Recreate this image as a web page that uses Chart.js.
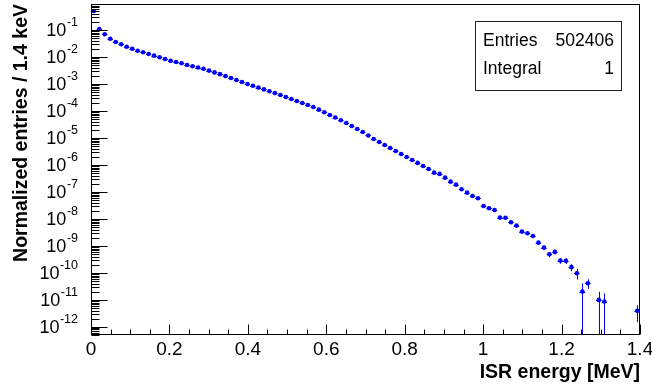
<!DOCTYPE html>
<html>
<head>
<meta charset="utf-8">
<script src="https://cdn.jsdelivr.net/npm/chart.js@4.4.1/dist/chart.umd.min.js"></script>
<style>
html, body { margin: 0; padding: 0; background: #fff; }
#wrap { width: 652px; height: 387px; }
</style>
</head>
<body>
<div id="wrap"><canvas id="chart-isr"></canvas></div>
<script>
var FONT = "'Liberation Sans', Arial, Helvetica, sans-serif";

// bin centres [MeV], 14 keV bins
var energy = [
	0.007, 0.021, 0.035, 0.049, 0.063, 0.077, 0.091, 0.105, 0.119, 0.133,
	0.147, 0.161, 0.175, 0.189, 0.203, 0.217, 0.231, 0.245, 0.259, 0.273,
	0.287, 0.301, 0.315, 0.329, 0.343, 0.357, 0.371, 0.385, 0.399, 0.413,
	0.427, 0.441, 0.455, 0.469, 0.483, 0.497, 0.511, 0.525, 0.539, 0.553,
	0.567, 0.581, 0.595, 0.609, 0.623, 0.637, 0.651, 0.665, 0.679, 0.693,
	0.707, 0.721, 0.735, 0.749, 0.763, 0.777, 0.791, 0.805, 0.819, 0.833,
	0.847, 0.861, 0.875, 0.889, 0.903, 0.917, 0.931, 0.945, 0.959, 0.973,
	0.987, 1.001, 1.015, 1.029, 1.043, 1.057, 1.071, 1.085, 1.099, 1.113,
	1.127, 1.141, 1.155, 1.169, 1.183, 1.197, 1.211, 1.225, 1.239, 1.253,
	1.267, 1.281, 1.295, 1.309, 1.323, 1.337, 1.351, 1.365, 1.379, 1.393
];

// normalized entries per bin (null = empty bin)
var entries = [
	0.506, 0.109, 0.0693, 0.0476, 0.0360, 0.0295, 0.0241, 0.0203, 0.0171, 0.0149,
	0.0129, 0.0112, 0.00975, 0.00843, 0.00730, 0.00653, 0.00585, 0.00506, 0.00453, 0.00408,
	0.00366, 0.00313, 0.00269, 0.00231, 0.00196, 0.00167, 0.00141, 0.00119, 0.00100, 0.000857,
	0.000736, 0.000631, 0.000541, 0.000460, 0.000392, 0.000330, 0.000278, 0.000234, 0.000198, 0.000167,
	0.000141, 0.000112, 8.95e-5, 7.11e-5, 5.70e-5, 4.53e-5, 3.60e-5, 2.78e-5, 2.15e-5, 1.67e-5,
	1.24e-5, 9.18e-6, 7.11e-6, 5.51e-6, 4.27e-6, 3.30e-6, 2.55e-6, 1.98e-6, 1.53e-6, 1.19e-6,
	9.18e-7, 7.11e-7, 5.19e-7, 4.65e-7, 3.39e-7, 2.41e-7, 1.86e-7, 1.26e-7, 9.42e-8, 7.11e-8,
	5.85e-8, 3.03e-8, 2.49e-8, 2.15e-8, 1.12e-8, 1.10e-8, 7.55e-9, 5.65e-9, 3.39e-9, 2.95e-9,
	2.34e-9, 1.32e-9, 8.65e-10, 4.93e-10, 6.00e-10, 2.86e-10, 2.80e-10, 1.63e-10, 9.75e-11, 2.03e-11,
	4.16e-11, null, 1.0e-11, 8.65e-12, null, null, null, null, null, 3.92e-12
];

// relative error per bin
var relErr = [
	0.01, 0.01, 0.01, 0.01, 0.01, 0.01, 0.01, 0.01, 0.01, 0.01,
	0.01, 0.01, 0.01, 0.01, 0.01, 0.01, 0.01, 0.01, 0.01, 0.01,
	0.01, 0.01, 0.01, 0.01, 0.01, 0.01, 0.01, 0.01, 0.01, 0.01,
	0.01, 0.01, 0.01, 0.01, 0.01, 0.01, 0.01, 0.01, 0.01, 0.01,
	0.01, 0.01, 0.01, 0.01, 0.01, 0.01, 0.01, 0.01, 0.01, 0.01,
	0.02, 0.02, 0.02, 0.02, 0.02, 0.02, 0.02, 0.02, 0.02, 0.02,
	0.03, 0.03, 0.03, 0.03, 0.03, 0.03, 0.03, 0.03, 0.03, 0.03,
	0.06, 0.06, 0.06, 0.06, 0.06, 0.06, 0.06, 0.06, 0.10, 0.10,
	0.10, 0.14, 0.16, 0.22, 0.20, 0.24, 0.24, 0.30, 0.42, 1.0,
	0.38, 0, 1.0, 1.0, 0, 0, 0, 0, 0, 0.62
];

var binWidth = 0.014;

var xTickValues = [0, 0.2, 0.4, 0.6, 0.8, 1, 1.2, 1.4];
var xTickLabels = ['0', '0.2', '0.4', '0.6', '0.8', '1', '1.2', '1.4'];
var yTickPowers = [-1, -2, -3, -4, -5, -6, -7, -8, -9, -10, -11, -12];

var statsLabels = ['Entries', 'Integral'];
var statsValues = ['502406', '1'];

var points = [];
for (var i = 0; i < energy.length; i++) {
	if (entries[i] !== null) points.push({x: energy[i], y: entries[i]});
}

var errorBars = {
	id: 'errorBars',
	beforeDatasetsDraw: function(chart) {
		var ctx = chart.ctx, x = chart.scales.x, y = chart.scales.y;
		ctx.save();
		ctx.strokeStyle = '#0000ff';
		ctx.lineWidth = 1;
		for (var i = 0; i < energy.length; i++) {
			var v = entries[i];
			if (v === null) continue;
			var px = Math.round(x.getPixelForValue(energy[i])) + 0.5;
			var py = y.getPixelForValue(v);
			var e = v * relErr[i];
			var top = y.getPixelForValue(v + e);
			var bot = (v - e > 0) ? y.getPixelForValue(v - e) : y.bottom;
			ctx.beginPath();
			ctx.moveTo(px, top);
			ctx.lineTo(px, bot);
			ctx.moveTo(x.getPixelForValue(energy[i] - binWidth / 2), Math.round(py) + 0.5);
			ctx.lineTo(x.getPixelForValue(energy[i] + binWidth / 2), Math.round(py) + 0.5);
			ctx.stroke();
		}
		ctx.restore();
	}
};

var rootFrame = {
	id: 'rootFrame',
	afterDraw: function(chart) {
		var ctx = chart.ctx, a = chart.chartArea, x = chart.scales.x, y = chart.scales.y;
		var L = Math.round(a.left) + 0.5, R = Math.round(a.right) - 0.5;
		var T = Math.round(a.top) + 0.5, B = Math.round(a.bottom) - 0.5;
		ctx.save();
		ctx.strokeStyle = '#000';
		ctx.lineWidth = 1;
		ctx.strokeRect(L, T, R - L, B - T);

		// x ticks, pointing inside
		ctx.beginPath();
		for (var k = 0; k <= 28; k++) {
			var px = Math.round(x.getPixelForValue(k * 0.05)) + 0.5;
			var len = (k % 4 === 0) ? 10 : 5;
			ctx.moveTo(px, B);
			ctx.lineTo(px, B - len);
		}
		// y ticks, log decades + minors
		for (var n = -13; n <= 0; n++) {
			for (var m = 1; m <= 9; m++) {
				var val = m * Math.pow(10, n);
				if (val < y.min || val > y.max) continue;
				var py = Math.round(y.getPixelForValue(val)) + 0.5;
				ctx.moveTo(L, py);
				ctx.lineTo(L + (m === 1 ? 16 : 8), py);
			}
		}
		ctx.stroke();

		// y labels 10^n
		ctx.fillStyle = '#000';
		ctx.textAlign = 'right';
		ctx.textBaseline = 'alphabetic';
		yTickPowers.forEach(function(p) {
			var py = y.getPixelForValue(Math.pow(10, p));
			var exp = String(p);
			ctx.font = '12.5px ' + FONT;
			var ew = ctx.measureText(exp).width;
			ctx.fillText(exp, 78, py - 4);
			ctx.font = '18px ' + FONT;
			ctx.fillText('10', 78 - ew - 0.5, py + 6);
		});

		// stats box
		ctx.fillStyle = '#fff';
		ctx.fillRect(475.5, 21.5, 146, 69);
		ctx.strokeStyle = '#222';
		ctx.strokeRect(475.5, 21.5, 146, 69);
		ctx.fillStyle = '#000';
		ctx.font = '17.5px ' + FONT;
		for (var s = 0; s < statsLabels.length; s++) {
			var by = 45.5 + s * 28;
			ctx.textAlign = 'left';
			ctx.fillText(statsLabels[s], 483, by);
			ctx.textAlign = 'right';
			ctx.fillText(statsValues[s], 614, by);
		}
		ctx.restore();
	}
};

var ctx = document.getElementById('chart-isr').getContext('2d');
var isrChart = new Chart(ctx, {
	type: 'scatter',
	data: {
		datasets: [{
			label: 'ISR',
			data: points,
			showLine: false,
			pointRadius: 2.3,
			pointBorderWidth: 0,
			pointBackgroundColor: '#0000ff',
			pointBorderColor: '#0000ff'
		}]
	},
	options: {
		responsive: true,
		maintainAspectRatio: false,
		animation: false,
		events: [],
		layout: { padding: { top: 4, right: 12, left: 0, bottom: 0 } },
		plugins: {
			legend: { display: false },
			tooltip: { enabled: false }
		},
		scales: {
			x: {
				type: 'linear',
				min: 0,
				max: 1.4,
				grid: { display: false },
				border: { display: false },
				afterBuildTicks: function(s) {
					s.ticks = xTickValues.map(function(v) { return {value: v}; });
				},
				ticks: {
					autoSkip: false,
					maxRotation: 0,
					padding: -5,
					color: '#000',
					font: { family: FONT, size: 19 },
					callback: function(v, i) { return xTickLabels[i]; }
				},
				title: {
					display: true,
					text: 'ISR energy [MeV]',
					align: 'end',
					color: '#000',
					font: { family: FONT, size: 19.5, weight: 'bold' },
					padding: { top: 0, bottom: 3 }
				},
				afterFit: function(s) {
					s.height = 52;
					s.paddingLeft = 0;
					s.paddingRight = 0;
				}
			},
			y: {
				type: 'logarithmic',
				min: 5e-13,
				max: 0.92,
				grid: { display: false },
				border: { display: false },
				ticks: { display: false },
				title: {
					display: true,
					text: 'Normalized entries / 1.4 keV',
					align: 'end',
					color: '#000',
					font: { family: FONT, size: 19.5, weight: 'bold' },
					padding: { top: 10, bottom: 0 }
				},
				afterFit: function(s) {
					s.width = 91;
					s.paddingTop = 0;
					s.paddingBottom = 0;
				}
			}
		}
	},
	plugins: [errorBars, rootFrame]
});
</script>
</body>
</html>
